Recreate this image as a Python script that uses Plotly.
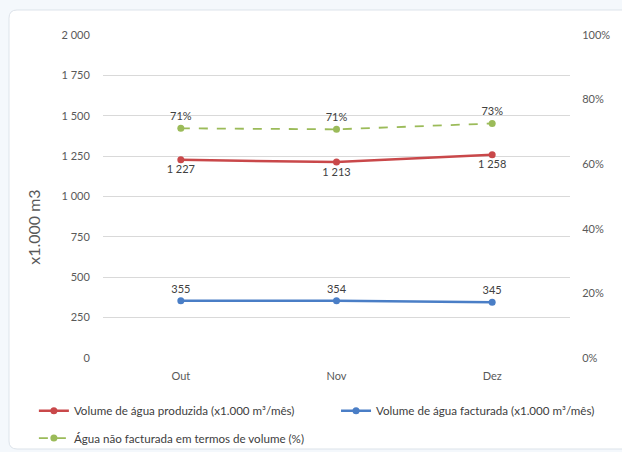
import plotly.graph_objects as go

months = ["Out", "Nov", "Dez"]
produzida = [1227, 1213, 1258]
facturada = [355, 354, 345]
nao_facturada = [0.711, 0.708, 0.726]
nao_facturada_labels = ["71%", "71%", "73%"]
y_title = "x1.000 m3"

def fmt(v):
    return f"{v:,}".replace(",", " ")

FONT = "Lato"
red = "#C9484A"
blue = "#4A7EC6"
green = "#9BBB59"

fig = go.Figure()
fig.add_trace(go.Scatter(
    x=months, y=produzida, mode="lines+markers+text",
    name="Volume de água produzida (x1.000 m³/mês)",
    line=dict(color=red, width=2.5), marker=dict(size=7, color=red),
    text=[fmt(v) for v in produzida], textposition="bottom center",
    textfont=dict(size=11, color="#404040", family=FONT),
    legend="legend",
))
fig.add_trace(go.Scatter(
    x=months, y=facturada, mode="lines+markers+text",
    name="Volume de água facturada (x1.000 m³/mês)",
    line=dict(color=blue, width=2.5), marker=dict(size=7, color=blue),
    text=[fmt(v) for v in facturada], textposition="top center",
    textfont=dict(size=11, color="#404040", family=FONT),
    legend="legend2",
))
fig.add_trace(go.Scatter(
    x=months, y=nao_facturada, mode="lines+markers+text", yaxis="y2",
    name="Água não facturada em termos de volume (%)",
    line=dict(color=green, width=1.8, dash="dash"), marker=dict(size=7, color=green),
    text=nao_facturada_labels, textposition="top center",
    textfont=dict(size=11, color="#404040", family=FONT),
    legend="legend3",
))

# card background
fig.add_shape(type="path", xref="paper", yref="paper", layer="below",
              path="M -0.2013,-0.257 L -0.2013,1.052 Q -0.2013,1.0774 -0.184,1.0774 L 1.2,1.0774 "
                   "L 1.2,-0.2817 L -0.184,-0.2817 Q -0.2013,-0.2817 -0.2013,-0.257 Z",
              fillcolor="white", line=dict(color="#dde3ea", width=1))

# y-axis title (placed like the reference, below the axis centre)
fig.add_annotation(text=y_title, xref="paper", yref="paper", x=-0.148, y=0.406,
                   textangle=-90, showarrow=False, xanchor="center", yanchor="middle",
                   font=dict(size=16, color="#595959", family=FONT))

legend_common = dict(orientation="h", xref="paper", yref="paper", xanchor="left", yanchor="middle",
                     itemwidth=30, tracegroupgap=0,
                     font=dict(size=11.6, color="#404040", family=FONT),
                     bgcolor="rgba(0,0,0,0)", borderwidth=0)

fig.update_layout(
    width=622, height=452,
    margin=dict(l=103, r=52, t=35, b=94, autoexpand=False),
    paper_bgcolor="#f4f8fc", plot_bgcolor="white",
    separators=", ",
    font=dict(family=FONT, size=11, color="#595959"),
    showlegend=True,
    legend=dict(legend_common, x=-0.148, y=-0.163),
    legend2=dict(legend_common, x=0.499, y=-0.163),
    legend3=dict(legend_common, x=-0.148, y=-0.248),
    xaxis=dict(range=[-0.5, 2.5], showgrid=False, zeroline=False, showline=False,
               automargin=False,
               ticks="outside", ticklen=8, tickcolor="rgba(0,0,0,0)",
               tickfont=dict(size=11, color="#595959")),
    yaxis=dict(range=[0, 2000], dtick=250, tickformat=",d", showgrid=True,
               automargin=False,
               gridcolor="#d9d9d9", gridwidth=1, zeroline=False, showline=False,
               ticks="outside", ticklen=10, tickcolor="rgba(0,0,0,0)",
               tickfont=dict(size=11, color="#595959")),
    yaxis2=dict(range=[0, 1], dtick=0.2, tickformat=".0%", overlaying="y", side="right",
                automargin=False,
                showgrid=False, zeroline=False, showline=False,
                ticks="outside", ticklen=9, tickcolor="rgba(0,0,0,0)",
                tickfont=dict(size=11, color="#595959")),
)

fig.write_html("out.html", config={"displayModeBar": False},
               post_script="document.body.style.margin='0';document.body.style.background='#f4f8fc';")
